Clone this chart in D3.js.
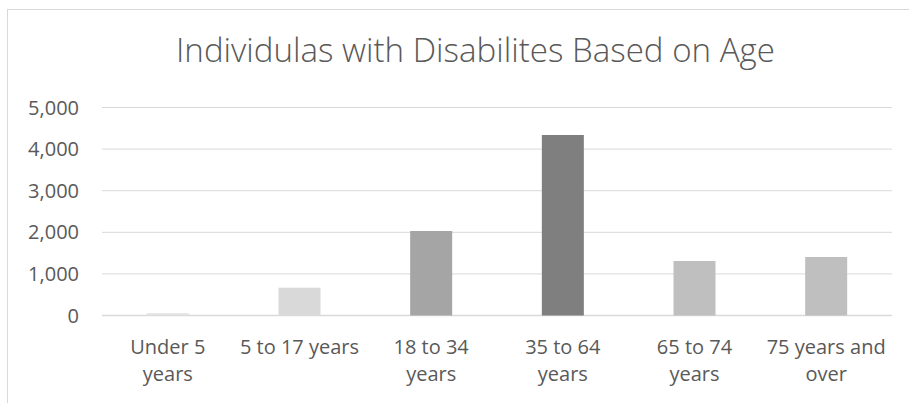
<!DOCTYPE html>
<html>
<head>
<meta charset="utf-8">
<script src="https://cdn.jsdelivr.net/npm/d3@7"></script>
<style>
  html, body { margin: 0; padding: 0; background: #ffffff; }
  svg { display: block; }
  text { font-family: "Open Sans", "DejaVu Sans", sans-serif; fill: #595959; }
</style>
</head>
<body>
<svg id="chart" width="909" height="403"></svg>
<script>
// ---- data ----
const title = "Individulas with Disabilites Based on Age";
const categories = ["Under 5 years", "5 to 17 years", "18 to 34 years", "35 to 64 years", "65 to 74 years", "75 years and over"];
const categoryLabelLines = [["Under 5", "years"], ["5 to 17 years"], ["18 to 34", "years"], ["35 to 64", "years"], ["65 to 74", "years"], ["75 years and", "over"]];
const values = [55, 668, 2031, 4339, 1310, 1406];
const barColors = ["#e3e3e3", "#d9d9d9", "#a5a5a5", "#7f7f7f", "#bfbfbf", "#bfbfbf"];
const yTicks = [0, 1000, 2000, 3000, 4000, 5000];

// ---- layout ----
const W = 909, H = 403;
const plot = { left: 102, right: 892, top: 107.5, bottom: 315.5 };

const svg = d3.select("#chart");

// chart area border
svg.append("rect")
  .attr("x", 7.5).attr("y", 9.5)
  .attr("width", 920).attr("height", 420)
  .attr("fill", "#ffffff")
  .attr("stroke", "#d9d9d9")
  .attr("stroke-width", 1);

const x = d3.scaleBand()
  .domain(categories)
  .range([plot.left, plot.right])
  .paddingInner(0.681)
  .paddingOuter(0.3405);

const y = d3.scaleLinear()
  .domain([0, 5000])
  .range([plot.bottom, plot.top]);

// gridlines
svg.append("g")
  .selectAll("line")
  .data(yTicks)
  .join("line")
  .attr("x1", plot.left).attr("x2", plot.right)
  .attr("y1", d => y(d)).attr("y2", d => y(d))
  .attr("stroke", "#d9d9d9")
  .attr("stroke-width", d => d === 0 ? 1.3 : 1);

// y axis labels
const fmt = d3.format(",");
svg.append("g")
  .selectAll("text")
  .data(yTicks)
  .join("text")
  .attr("x", 79)
  .attr("y", d => y(d))
  .attr("dy", "0.35em")
  .attr("text-anchor", "end")
  .attr("font-size", 20)
  .text(d => fmt(d));

// bars
svg.append("g")
  .selectAll("rect")
  .data(values)
  .join("rect")
  .attr("x", (d, i) => x(categories[i]))
  .attr("width", x.bandwidth())
  .attr("y", d => y(d))
  .attr("height", d => y(0) - y(d))
  .attr("fill", (d, i) => barColors[i]);

// category labels
const catG = svg.append("g");
categories.forEach((c, i) => {
  const cx = x(c) + x.bandwidth() / 2;
  const t = catG.append("text")
    .attr("x", cx)
    .attr("y", 354)
    .attr("text-anchor", "middle")
    .attr("font-size", 20);
  categoryLabelLines[i].forEach((line, j) => {
    t.append("tspan")
      .attr("x", cx)
      .attr("y", 354 + j * 26.5)
      .text(line);
  });
});

// title
svg.append("text")
  .attr("x", 475.5)
  .attr("y", 61.7)
  .attr("text-anchor", "middle")
  .attr("font-size", 33)
  .attr("font-weight", 300)
  .attr("textLength", 599)
  .attr("lengthAdjust", "spacingAndGlyphs")
  .text(title);
</script>
</body>
</html>
